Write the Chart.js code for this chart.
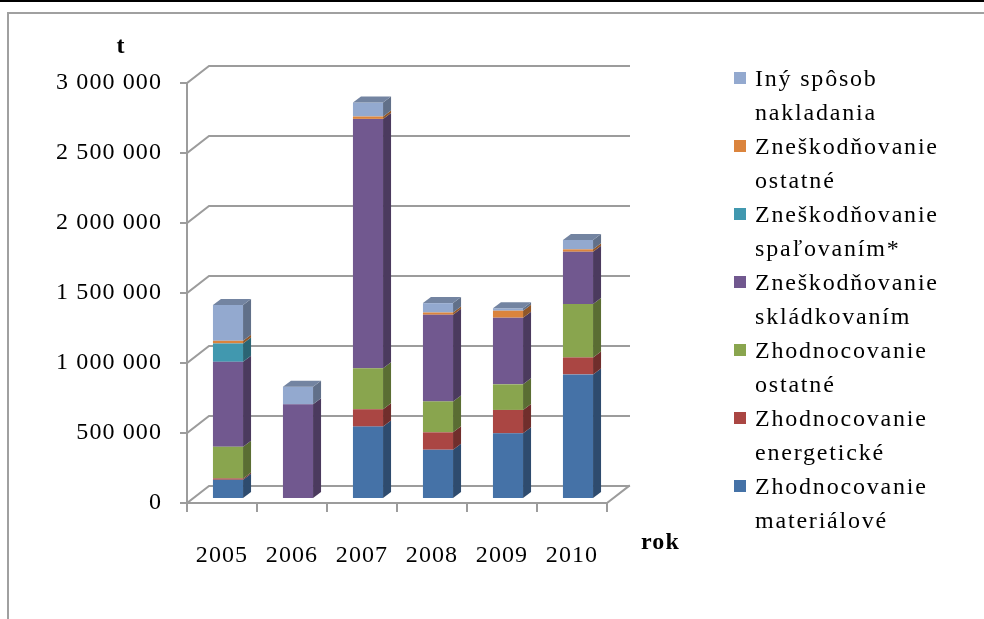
<!DOCTYPE html>
<html>
<head>
<meta charset="utf-8">
<script src="https://cdn.jsdelivr.net/npm/chart.js@4/dist/chart.umd.min.js"></script>
<style>
  body { margin: 0; background: #fff; }
  #wrap { position: relative; width: 984px; height: 619px; overflow: hidden; }
  #topline { position: absolute; left: 0; top: 0; width: 984px; height: 2px; background: #000; }
  #frame { position: absolute; left: 7px; top: 12px; width: 990px; height: 620px;
           border-left: 2px solid #a0a0a0; border-top: 2px solid #a0a0a0; }
  canvas { position: absolute; left: 0; top: 0; }
  #legend { position: absolute; left: 734px; top: 61px; font-family: "Liberation Serif", "Times New Roman", serif;
            font-size: 24px; letter-spacing: 1.8px; line-height: 34px; color: #000; }
  .item { position: relative; padding-left: 21px; height: 68px; }
  .box { position: absolute; left: 0; top: 11px; width: 12px; height: 12px; }
</style>
</head>
<body>
<div id="wrap">
  <div id="topline"></div>
  <div id="frame"></div>
  <canvas id="chart" width="984" height="619"></canvas>
  <div id="legend"></div>
</div>
<script>
// Roky
const years = ['2005', '2006', '2007', '2008', '2009', '2010'];

// Hodnoty v tonách (odčítané z grafu), zdola nahor
const materialove   = [130000, 0, 510000, 345000, 462000, 883000];
const energeticke   = [10000, 0, 124000, 124000, 167000, 121000];
const zhodnOstatne  = [226000, 0, 293000, 221000, 183000, 381000];
const skladkovanim  = [607000, 669000, 1781000, 619000, 476000, 374000];
const spalovanim    = [131000, 0, 0, 0, 0, 0];
const zneskOstatne  = [19000, 0, 17000, 16000, 50000, 17000];
const inySposob     = [255000, 126000, 100000, 67000, 17000, 67000];

const yTicks = [0, 500000, 1000000, 1500000, 2000000, 2500000, 3000000];

const seriesNames = [
  ['Zhodnocovanie', 'materiálové'],
  ['Zhodnocovanie', 'energetické'],
  ['Zhodnocovanie', 'ostatné'],
  ['Zneškodňovanie', 'skládkovaním'],
  ['Zneškodňovanie', 'spaľovaním*'],
  ['Zneškodňovanie', 'ostatné'],
  ['Iný spôsob', 'nakladania']
];
const seriesValues = [materialove, energeticke, zhodnOstatne, skladkovanim, spalovanim, zneskOstatne, inySposob];
const seriesColors = ['#4572A7', '#AA4643', '#89A54E', '#71588F', '#4198AF', '#DB843D', '#93A9CF'];

const FONT = '"Liberation Serif", "Times New Roman", serif';
const WALL_DX = 22, WALL_DY = 17;   // hĺbka steny
const BAR_DX = 6, BAR_DY = 5;       // posun stĺpcov do hĺbky
const SIDE_DX = 8, SIDE_DY = 6;     // hĺbka stĺpca

function shade(hex, f) {
  let n = parseInt(hex.slice(1), 16);
  let r = Math.round(((n >> 16) & 255) * f);
  let g = Math.round(((n >> 8) & 255) * f);
  let b = Math.round((n & 255) * f);
  return `rgb(${r},${g},${b})`;
}

function formatNum(v) {
  return String(v).replace(/\B(?=(\d{3})+(?!\d))/g, ' ');
}

function poly(ctx, pts, color) {
  ctx.beginPath();
  ctx.moveTo(pts[0][0], pts[0][1]);
  for (let i = 1; i < pts.length; i++) ctx.lineTo(pts[i][0], pts[i][1]);
  ctx.closePath();
  ctx.fillStyle = color;
  ctx.fill();
}

const box3d = {
  id: 'box3d',
  beforeDraw(chart) {
    chart.ctx.letterSpacing = '1.1px';
  },
  beforeDatasetsDraw(chart) {
    let ctx = chart.ctx;
    let a = chart.chartArea;
    let ys = chart.scales.y;
    ctx.save();
    ctx.strokeStyle = '#9c9c9c';
    ctx.lineWidth = 2;
    ctx.lineCap = 'square';
    // zadná stena + ľavá stena
    yTicks.forEach(v => {
      let y = ys.getPixelForValue(v);
      ctx.beginPath();
      ctx.moveTo(a.left, y);
      ctx.lineTo(a.left + WALL_DX, y - WALL_DY);
      ctx.lineTo(a.right + WALL_DX, y - WALL_DY);
      ctx.stroke();
      // ryska na osi
      ctx.beginPath();
      ctx.moveTo(a.left - 6, y);
      ctx.lineTo(a.left, y);
      ctx.stroke();
    });
    // os y
    ctx.beginPath();
    ctx.moveTo(a.left, a.top);
    ctx.lineTo(a.left, a.bottom);
    ctx.stroke();
    // podlaha
    ctx.beginPath();
    ctx.moveTo(a.left, a.bottom);
    ctx.lineTo(a.right, a.bottom);
    ctx.lineTo(a.right + WALL_DX, a.bottom - WALL_DY);
    ctx.stroke();
    // rysky na osi x
    let step = (a.right - a.left) / years.length;
    for (let i = 0; i <= years.length; i++) {
      let x = a.left + i * step;
      ctx.beginPath();
      ctx.moveTo(x, a.bottom);
      ctx.lineTo(x, a.bottom + 8);
      ctx.stroke();
    }
    ctx.restore();

    ctx.save();
    ctx.translate(BAR_DX, -BAR_DY);
  },
  afterDatasetsDraw(chart) {
    let ctx = chart.ctx;
    let n = chart.data.datasets.length;
    for (let i = 0; i < years.length; i++) {
      let topIdx = -1;
      for (let d = 0; d < n; d++) {
        if (chart.data.datasets[d].data[i] > 0) topIdx = d;
      }
      for (let d = 0; d < n; d++) {
        if (!(chart.data.datasets[d].data[i] > 0)) continue;
        let el = chart.getDatasetMeta(d).data[i];
        let p = el.getProps(['x', 'y', 'base', 'width'], true);
        let x1 = p.x - p.width / 2, x2 = p.x + p.width / 2;
        let col = seriesColors[d];
        poly(ctx, [[x2, p.y], [x2 + SIDE_DX, p.y - SIDE_DY], [x2 + SIDE_DX, p.base - SIDE_DY], [x2, p.base]], shade(col, 0.66));
        if (d === topIdx) {
          poly(ctx, [[x1, p.y], [x1 + SIDE_DX, p.y - SIDE_DY], [x2 + SIDE_DX, p.y - SIDE_DY], [x2, p.y]], shade(col, 0.78));
        }
      }
    }
    ctx.restore();
  },
  afterDraw(chart) {
    let ctx = chart.ctx;
    ctx.save();
    ctx.fillStyle = '#000';
    ctx.font = 'bold 24px ' + FONT;
    ctx.textBaseline = 'middle';
    ctx.textAlign = 'center';
    ctx.fillText('t', 121, 47);
    ctx.textAlign = 'left';
    ctx.fillText('rok', 641, 543);
    ctx.restore();
  }
};

let ctx = document.getElementById('chart').getContext('2d');
let chart = new Chart(ctx, {
  type: 'bar',
  data: {
    labels: years,
    datasets: seriesValues.map((vals, k) => ({
      label: seriesNames[k].join(' '),
      data: vals,
      backgroundColor: seriesColors[k],
      borderWidth: 0
    }))
  },
  options: {
    responsive: false,
    animation: false,
    events: [],
    layout: { padding: { left: 0, top: 83, right: 377, bottom: 0 } },
    datasets: { bar: { categoryPercentage: 1, barPercentage: 0.43 } },
    plugins: { legend: { display: false }, tooltip: { enabled: false } },
    scales: {
      x: {
        stacked: true,
        grid: { display: false },
        border: { display: false },
        ticks: { color: '#000', font: { family: FONT, size: 24 }, padding: 30, maxRotation: 0 },
        afterFit(scale) { scale.height = 116; }
      },
      y: {
        stacked: true,
        min: 0,
        max: 3000000,
        grid: { display: false, drawTicks: false },
        border: { display: false },
        ticks: {
          stepSize: 500000,
          color: '#000',
          font: { family: FONT, size: 24 },
          padding: 25,
          callback: v => formatNum(v)
        },
        afterFit(scale) { scale.width = 187; }
      }
    }
  },
  plugins: [box3d]
});

// legenda (v opačnom poradí ako stĺpce)
let legendDiv = document.getElementById('legend');
for (let k = seriesNames.length - 1; k >= 0; k--) {
  let item = document.createElement('div');
  item.className = 'item';
  let box = document.createElement('span');
  box.className = 'box';
  box.style.background = seriesColors[k];
  item.appendChild(box);
  item.appendChild(document.createTextNode(seriesNames[k][0]));
  item.appendChild(document.createElement('br'));
  item.appendChild(document.createTextNode(seriesNames[k][1]));
  legendDiv.appendChild(item);
}
</script>
</body>
</html>
